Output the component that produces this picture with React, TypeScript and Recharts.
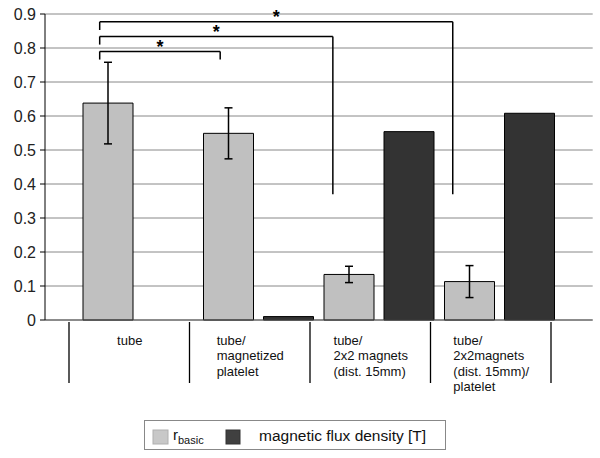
import React from "react";
import {BarChart, Bar, XAxis, YAxis, CartesianGrid, ErrorBar, ReferenceLine, ReferenceDot} from "recharts";

const categories = [
  "tube",
  "tube/\nmagnetized\nplatelet",
  "tube/\n2x2 magnets\n(dist. 15mm)",
  "tube/\n2x2magnets\n(dist. 15mm)/\nplatelet",
];
const rBasic = [0.638, 0.549, 0.134, 0.113];
const rBasicErr = [0.12, 0.075, 0.024, 0.047];
const fluxDensity = [null, 0.01, 0.554, 0.608];
const yTicks = [0, 0.1, 0.2, 0.3, 0.4, 0.5, 0.6, 0.7, 0.8, 0.9];

// significance brackets, x in category units (0 = centre of first category)
const brackets = [
  {from: -0.32, to: 0.68, top: 0.79, leftEnd: 0.766, rightEnd: 0.766},
  {from: -0.32, to: 1.615, top: 0.834, leftEnd: 0.81, rightEnd: 0.37},
  {from: -0.32, to: 2.61, top: 0.877, leftEnd: 0.853, rightEnd: 0.37},
];

const data = categories.map((name, i) => ({
  name,
  idx: i,
  rbasic: rBasic[i],
  err: rBasicErr[i],
  flux: fluxDensity[i],
}));

const FONT = '"Liberation Sans", Arial, sans-serif';
const BAND = 120.5;
const PAD = {left: 33, right: 32.7};
// numeric helper axis: category centres at 0..3
const POS_PAD = {left: PAD.left + BAND / 2, right: PAD.right + BAND / 2};

let ctx: CanvasRenderingContext2D | null = null;
const measure = (s: string) => {
  if (!ctx) ctx = document.createElement("canvas").getContext("2d");
  if (!ctx) return s.length * 7;
  ctx.font = `13px ${FONT}`;
  return ctx.measureText(s).width;
};

const CategoryTick = (props: any) => {
  const {x, y, payload} = props;
  const idx = payload.index ?? props.index;
  const lines = String(payload.value).split("\n");
  const left = x - BAND / 2 - 9;
  const cx = x - 8.5;
  const widest = Math.max(...lines.map(measure));
  const multi = lines.length > 1;
  const tx = multi ? cx - widest / 2 : cx;
  return (
    <g>
      <line x1={left} x2={left} y1={y + 2} y2={y + 63} stroke="#000" strokeWidth={1.3} />
      {idx === categories.length - 1 && (
        <line x1={left + BAND} x2={left + BAND} y1={y + 2} y2={y + 63} stroke="#000" strokeWidth={1.3} />
      )}
      <text x={tx} y={y + 24.5} fontSize={13} fill="#111" fontFamily={FONT} textAnchor={multi ? "start" : "middle"}>
        {lines.map((l, i) => (
          <tspan key={i} x={tx} dy={i === 0 ? 0 : 15.5}>
            {l}
          </tspan>
        ))}
      </text>
    </g>
  );
};

const Star = (props: any) => (
  <text x={props.cx} y={props.cy + 10} textAnchor="middle" fontSize={18} fontWeight="bold" fontFamily={FONT} fill="#000">
    *
  </text>
);

const Legend = () => (
  <svg width={303} height={31} style={{position: "absolute", left: 144, top: 420}}>
    <rect x={0.5} y={0.5} width={301} height={29} fill="#fff" stroke="#888" />
    <rect x={9} y={10} width={15} height={14} fill="#c8c8c8" stroke="#b0b0b0" />
    <text x={29} y={20} fontSize={15} fontFamily={FONT} fill="#111">
      r<tspan fontSize={11} dy={4}>basic</tspan>
    </text>
    <rect x={82} y={10} width={14} height={14} fill="#404040" stroke="#333" />
    <text x={115} y={21} fontSize={15.5} fontFamily={FONT} fill="#111">
      magnetic flux density [T]
    </text>
  </svg>
);

export default function App() {
  return (
    <div style={{position: "absolute", left: 0, top: 0, width: 600, height: 458, background: "#fff", fontFamily: FONT}}>
      <BarChart width={600} height={458} data={data} barGap={10} margin={{top: 14, right: 7.3, left: 0, bottom: 58}}>
        <CartesianGrid horizontal vertical={false} stroke="#888" />
        <XAxis
          dataKey="name"
          height={80}
          padding={PAD}
          interval={0}
          tickLine={false}
          tickSize={0}
          tickMargin={0}
          axisLine={{stroke: "#555"}}
          tick={<CategoryTick />}
        />
        <XAxis xAxisId="pos" dataKey="idx" type="number" domain={[0, 3]} padding={POS_PAD} allowDataOverflow hide />
        <YAxis
          width={45}
          domain={[0, 0.9]}
          ticks={yTicks}
          interval={0}
          tickFormatter={(v: number) => String(v)}
          axisLine={{stroke: "#000"}}
          tickLine={{stroke: "#000"}}
          tickSize={5}
          tickMargin={4}
          tick={{fontSize: 16, fill: "#222", fontFamily: FONT}}
        />
        <YAxis yAxisId="right" orientation="right" width={0} domain={[0, 0.9]} tick={false} tickLine={false} axisLine={{stroke: "#999"}} />
        <Bar dataKey="rbasic" fill="#c0c0c0" stroke="#000" strokeWidth={1} barSize={50} isAnimationActive={false}>
          <ErrorBar dataKey="err" width={4} stroke="#000" strokeWidth={1.5} direction="y" />
        </Bar>
        <Bar dataKey="flux" fill="#333333" stroke="#000" strokeWidth={1} barSize={50} isAnimationActive={false} />
        {brackets.map((b, i) => [
          <ReferenceLine
            key={`h${i}`}
            xAxisId="pos"
            ifOverflow="visible"
            segment={[{x: b.from, y: b.top}, {x: b.to, y: b.top}]}
            stroke="#000"
            strokeWidth={1.5}
          />,
          <ReferenceLine
            key={`l${i}`}
            xAxisId="pos"
            ifOverflow="visible"
            segment={[{x: b.from, y: b.top}, {x: b.from, y: b.leftEnd}]}
            stroke="#000"
            strokeWidth={1.5}
          />,
          <ReferenceLine
            key={`r${i}`}
            xAxisId="pos"
            ifOverflow="visible"
            segment={[{x: b.to, y: b.top}, {x: b.to, y: b.rightEnd}]}
            stroke="#000"
            strokeWidth={1.5}
          />,
          <ReferenceDot
            key={`s${i}`}
            xAxisId="pos"
            ifOverflow="visible"
            x={(b.from + b.to) / 2}
            y={b.top + 0.025}
            r={0}
            shape={<Star />}
          />,
        ])}
      </BarChart>
      <Legend />
    </div>
  );
}
